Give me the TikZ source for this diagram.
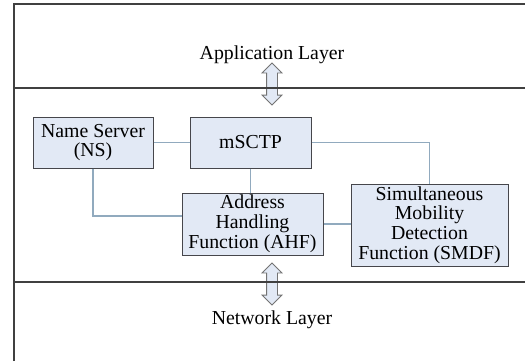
\documentclass[tikz,border=0pt]{standalone}
\usepackage{fontspec}
\setmainfont{Liberation Serif}
\usetikzlibrary{shapes.arrows}
\definecolor{boxfill}{RGB}{226,233,245}
\definecolor{boxline}{RGB}{70,70,75}
\definecolor{linkline}{RGB}{145,170,190}
\begin{document}
\begin{tikzpicture}[
    x=0.5pt, y=-0.5pt,
    font=\fontsize{9.9}{9.9}\selectfont,
    block/.style={
      rectangle,
      draw=boxline,
      line width=0.5pt,
      fill=boxfill,
      align=center,
      inner sep=1pt
    },
    link/.style={draw=linkline, line width=0.7pt},
    layer/.style={draw=black!75, line width=0.8pt},
    updown/.style={
      double arrow,
      rotate=90,
      draw=black!55,
      fill=boxfill,
      line width=0.4pt,
      minimum height=21pt,
      minimum width=9.5pt,
      double arrow head extend=2.25pt,
      inner xsep=0pt,
      inner ysep=2.5pt
    }]

    \useasboundingbox (0,0) rectangle (525,361);

    % arrows between layers
    \node[updown] (UP) at (272,84) {};
    \node[updown] (DOWN) at (272,284) {};

    % frame and layer borders
    \draw[layer] (14,361) -- (14,4) -- (525,4);
    \draw[layer] (14,88) -- (525,88);
    \draw[layer] (14,282) -- (525,282);

    % layer names
    \node (APP) at (272,55) {Application Layer};
    \node (NET) at (272,320) {Network Layer};

    % name server
    \draw (93,142.5) node[block,
    minimum width=60pt,
    minimum height=25.5pt] (NS) {Name Server\\(NS)};
    % mSCTP
    \draw (250.5,142.5) node[block,
    minimum width=60.5pt,
    minimum height=25.5pt] (M) {mSCTP};
    % address handling
    \draw (252.5,224) node[block,
    minimum width=70.5pt,
    minimum height=31pt] (AHF) {Address\\Handling\\Function (AHF)};
    % mobility detection
    \draw (429.5,225) node[block,
    minimum width=78.5pt,
    minimum height=41pt] (SMDF) {Simultaneous\\Mobility\\Detection\\Function (SMDF)};

    % lines
    \draw[link] (NS.east) -- (NS.east -| M.west);
    \draw[link] (M.south) -- (M.south |- AHF.north);
    \draw[link] (NS.south) |- ([yshift=4pt]AHF.west);
    \draw[link] (M.east) -| (SMDF.north);
    \draw[link] (AHF.east) -- (AHF.east -| SMDF.west);
  \end{tikzpicture}
\end{document}
